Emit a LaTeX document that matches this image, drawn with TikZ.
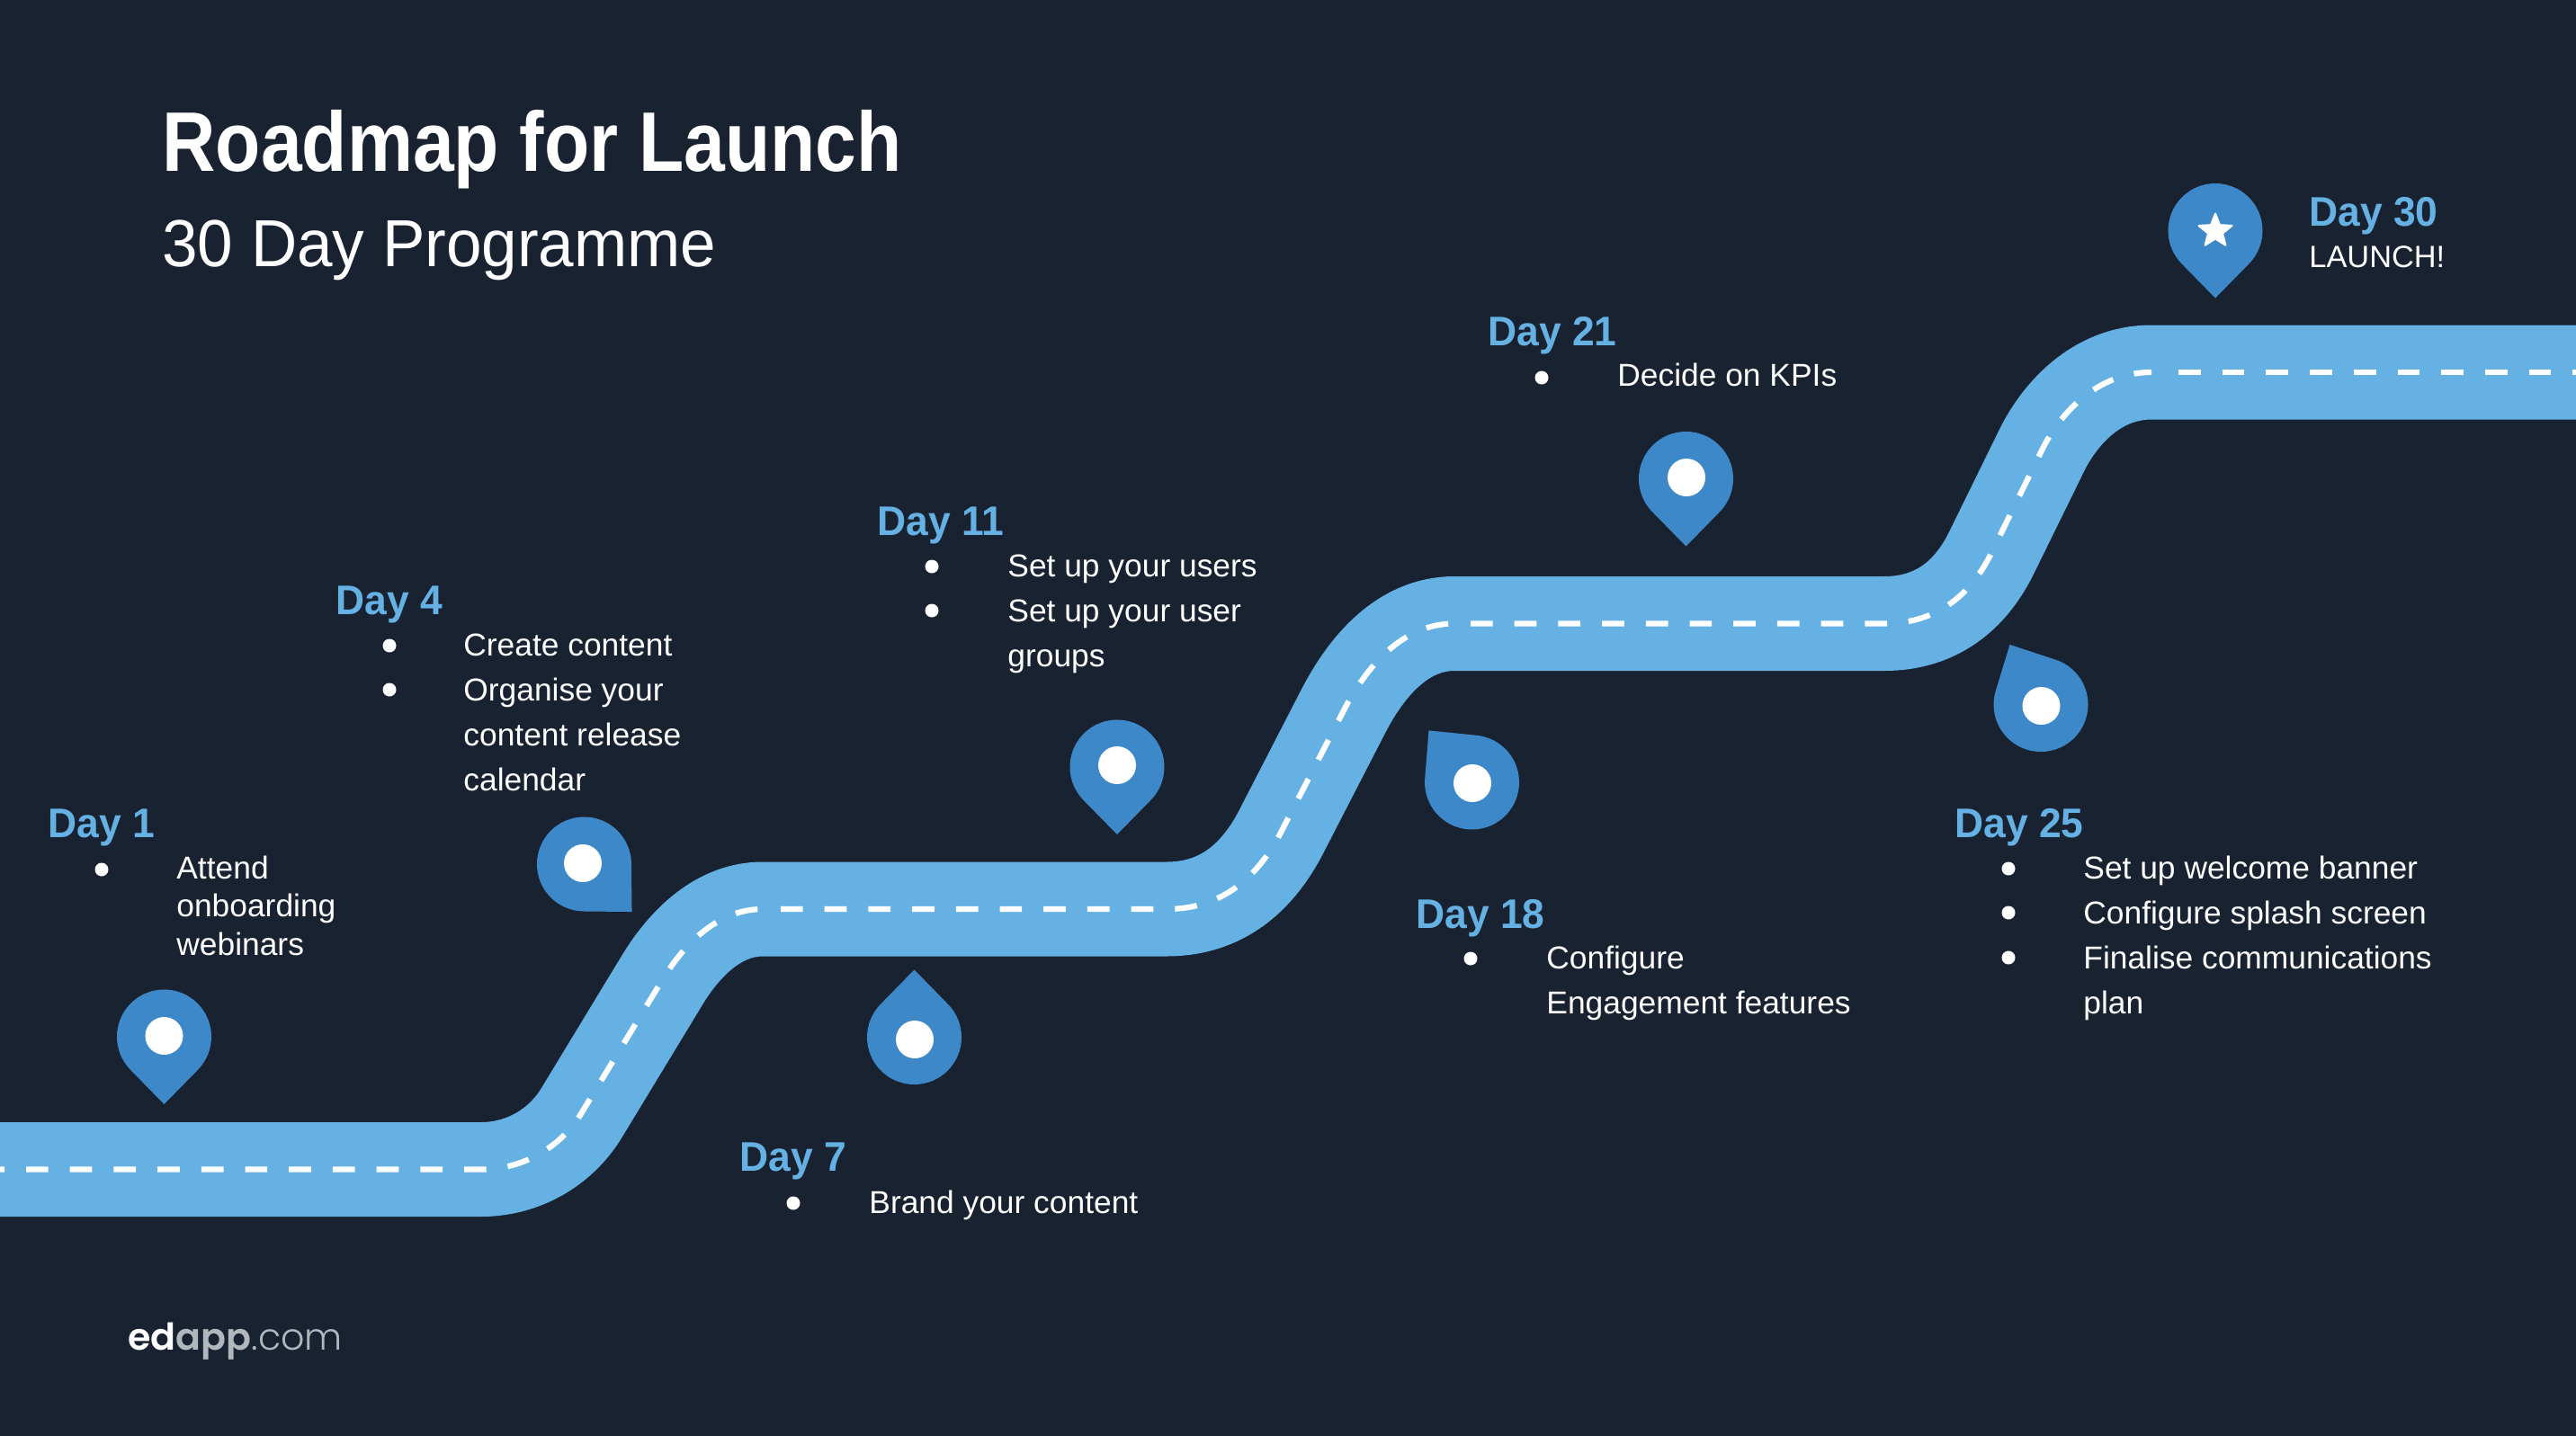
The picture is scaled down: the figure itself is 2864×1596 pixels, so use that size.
\documentclass[tikz,border=0pt]{standalone}
\usepackage{fontspec}
\usetikzlibrary{shapes.geometric}
\setmainfont{Liberation Sans}
\newfontfamily\titlefont[FakeStretch=0.875]{Liberation Sans}
\newfontfamily\subfont[FakeStretch=0.96]{Liberation Sans}
\newfontfamily\dayfont[FakeStretch=0.965]{Liberation Sans}
\newfontfamily\bodyfont[FakeStretch=1.005]{Liberation Sans}
\newfontfamily\logobold{Poppins}[UprightFont=* SemiBold]
\newfontfamily\logolight{Poppins}[UprightFont=* Light]
\definecolor{bgc}{RGB}{25,34,49}
\definecolor{roadc}{RGB}{101,177,228}
\definecolor{pinc}{RGB}{60,136,200}
\definecolor{logog}{RGB}{178,182,189}
\tikzset{
  daylabel/.style={anchor=base west,inner sep=0pt,text=roadc,font=\dayfont\bfseries\fontsize{23}{27}\selectfont},
  bodytext/.style={anchor=base west,inner sep=0pt,text=white,align=left,font=\bodyfont\fontsize{17.6}{25}\selectfont},
  tighttext/.style={bodytext,font=\bodyfont\fontsize{17.6}{21.25}\selectfont},
  bulletdot/.style={circle,fill=white,inner sep=0pt,minimum size=7.5pt},
  pinhole/.style={circle,fill=white,inner sep=0pt,minimum size=21pt},
  roaddash/.style={white,line width=3.1pt,dash pattern=on 12.35pt off 12pt},
}
\newcommand{\pinshape}[3]{%
  \fill[pinc,shift={(#1,#2)},rotate=#3] (0,75) -- (37.5,36.7)
     arc[start angle=-44.4,end angle=224.4,radius=26.25pt] -- cycle;}
\begin{document}
\begin{tikzpicture}[x=0.5pt,y=-0.5pt]
\useasboundingbox (0,0) rectangle (2864,1596);
\fill[bgc] (-10,-10) rectangle (2874,1606);
% road
\def\bendA{(535,1300.5) .. controls (581,1300.5) and (623.4,1276.4) .. (647,1237) -- (735,1092)
  .. controls (757,1055) and (795,1011) .. (848,1011)}
\def\bendB{(1297,1011) .. controls (1350,1011) and (1395,985) .. (1427,920) -- (1494,790)
  .. controls (1520,740) and (1560,693.5) .. (1617,693.5)}
\def\bendC{(2095,693.5) .. controls (2150,693.5) and (2190,665) .. (2215,613) -- (2268,505)
  .. controls (2288,462) and (2330,414) .. (2392,414)}
\draw[roadc,line width=52.5pt] (-40,1300.5) -- \bendA -- \bendB -- \bendC -- (2900,414);
\draw[roaddash] (-19.7,1300.5) -- \bendA;
\draw[roaddash] (868,1011) -- \bendB;
\draw[roaddash] (1635,693.5) -- \bendC;
\draw[roaddash] (2422,414) -- (2900,414);
% pins
\pinshape{182.5}{1153}{0}
\node[pinhole] (h1) at (182.5,1152) {};
\pinshape{649.5}{961}{45}
\node[pinhole] (h4) at (648,960) {};
\pinshape{1016.5}{1153.5}{180}
\node[pinhole] (h7) at (1017,1156) {};
\pinshape{1242}{853}{0}
\node[pinhole] (h11) at (1242,851) {};
\pinshape{1636.5}{870}{-140.2}
\node[pinhole] (h18) at (1637,871) {};
\pinshape{1874.5}{532.5}{0}
\node[pinhole] (h21) at (1875,531) {};
\pinshape{2269}{783.5}{-152.6}
\node[pinhole] (h25) at (2269.5,785) {};
\pinshape{2463}{256.5}{0}
\node[star,star points=5,star point ratio=2.3,fill=white,draw=white,line width=1pt,line join=round,inner sep=0pt,minimum size=19.5pt] (h30) at (2463,257) {};
% title
\node[anchor=base west,inner sep=0pt,text=white,font=\titlefont\bfseries\fontsize{47}{50}\selectfont] (title) at (180,190) {Roadmap for Launch};
\node[anchor=base west,inner sep=0pt,text=white,font=\subfont\fontsize{37}{40}\selectfont] (subtitle) at (180,296) {30 Day Programme};
% day 1
\node[daylabel] (d1) at (53,931) {Day 1};
\node[bulletdot] (b1a) at (113,967) {};
\node[tighttext] (t1) at (196,1062) {Attend\\onboarding\\webinars};
% day 4
\node[daylabel] (d4) at (373,683) {Day 4};
\node[bulletdot] (b4a) at (433,718) {};
\node[bulletdot] (b4b) at (433,767) {};
\node[bodytext] (t4) at (515,879) {Create content\\Organise your\\content release\\calendar};
% day 7
\node[daylabel] (d7) at (822,1302) {Day 7};
\node[bulletdot] (b7a) at (882,1338) {};
\node[bodytext] (t7) at (966,1349.5) {Brand your content};
% day 11
\node[daylabel] (d11) at (975,595) {Day 11};
\node[bulletdot] (b11a) at (1036,630) {};
\node[bulletdot] (b11b) at (1036,679) {};
\node[bodytext] (t11) at (1120,741) {Set up your users\\Set up your user\\groups};
% day 18
\node[daylabel] (d18) at (1574,1032) {Day 18};
\node[bulletdot] (b18a) at (1635,1066) {};
\node[bodytext] (t18) at (1719,1127) {Configure\\Engagement features};
% day 21
\node[daylabel] (d21) at (1654,384) {Day 21};
\node[bulletdot] (b21a) at (1714,420) {};
\node[bodytext] (t21) at (1798,429) {Decide on KPIs};
% day 25
\node[daylabel] (d25) at (2173,931) {Day 25};
\node[bulletdot] (b25a) at (2233,966) {};
\node[bulletdot] (b25b) at (2233,1015) {};
\node[bulletdot] (b25c) at (2233,1065) {};
\node[bodytext] (t25) at (2316,1127) {Set up welcome banner\\Configure splash screen\\Finalise communications\\plan};
% day 30
\node[daylabel] (d30) at (2567,251) {Day 30};
\node[bodytext,font=\bodyfont\fontsize{17.1}{25}\selectfont] (t30) at (2567,297) {LAUNCH!};
% logo
\node[anchor=base west,inner sep=0pt,font=\fontsize{20.6}{24}\selectfont] (logo) at (142,1501) {\logobold\textcolor{white}{ed}\textcolor{logog}{app}\logolight\textcolor{logog}{.com}};
\end{tikzpicture}
\end{document}
